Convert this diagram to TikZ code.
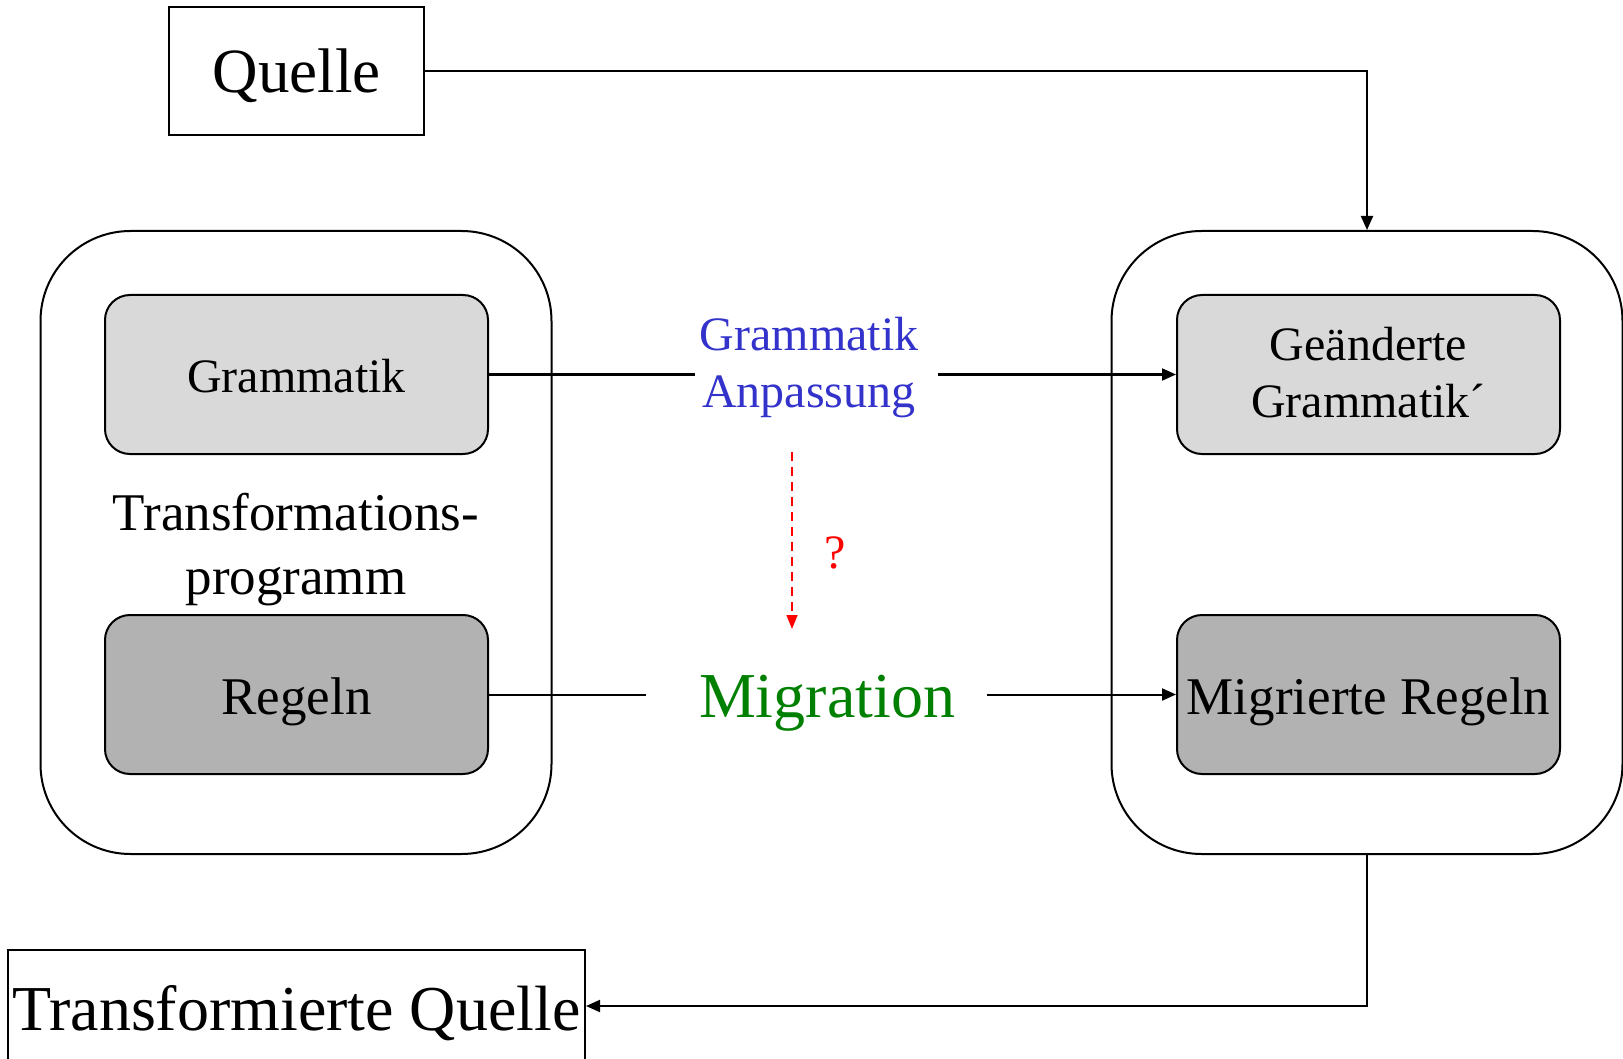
\documentclass[tikz,border=0pt]{standalone}
\usepackage{fontspec}
\setmainfont{Liberation Serif}
\usetikzlibrary{arrows.meta,calc}
\definecolor{lgray}{RGB}{217,217,217}
\definecolor{dgray}{RGB}{178,178,178}
\definecolor{myblue}{RGB}{51,51,204}
\definecolor{mygreen}{RGB}{0,128,0}
\newcommand\lowr[2]{\raisebox{-#1}[\height][\depth]{#2}}
\begin{document}
\begin{tikzpicture}[x=1pt,y=-1pt,line width=2pt,
  outerbox/.style={draw,rounded corners=90pt,minimum width=511pt,minimum height=623pt,inner sep=0pt},
  innerbox/.style={draw,rounded corners=25pt,minimum width=383pt,minimum height=159pt,inner sep=0pt},
  plainbox/.style={draw,inner sep=0pt},
  arr/.style={-{Triangle[length=14pt,width=12pt]}},
  fsmall/.style={font=\fontsize{48}{57}\selectfont},
  fmid/.style={font=\fontsize{53}{64}\selectfont},
  fbig/.style={font=\fontsize{63}{70}\selectfont}]
\useasboundingbox (0,0) rectangle (1623,1059);
% outer containers
\node[outerbox] (lout) at (296,542.5) {};
\node[outerbox] (rout) at (1367,542.5) {};
% inner boxes
\node[innerbox,fill=lgray,fsmall] (gram) at (296.5,374.5) {\lowr{2pt}{Grammatik}};
\node[innerbox,fill=dgray,fmid] (reg) at (296.5,694.5) {\lowr{7pt}{Regeln}};
\node[innerbox,fill=lgray,fsmall] (gc) at (1368.5,374.5)
  {\lowr{3pt}{\begin{tabular}{@{}c@{}}Geänderte\\Grammatik´\end{tabular}}};
\node[innerbox,fill=dgray,fmid] (mreg) at (1368.5,694.5) {\lowr{7pt}{Migrierte Regeln}};
\node[align=center,inner sep=0pt,font=\fontsize{53}{64}\selectfont] (tp) at (296,550) {Transformations-\\programm};
% source / target
\node[plainbox,minimum width=255pt,minimum height=128pt,fbig] (q) at (296.5,71) {\lowr{5pt}{Quelle}};
\node[plainbox,minimum width=577pt,minimum height=112pt,font=\fontsize{64}{72}\selectfont] (tq) at (296.5,1006) {\lowr{7pt}{Transformierte Quelle}};
% middle labels
\node[fsmall,text=myblue,align=center,inner sep=0pt] (anp) at (809,368) {Grammatik\\Anpassung};
\node[font=\fontsize{64}{70}\selectfont,text=mygreen,inner sep=0pt] (mig) at (827,703) {Migration};
\node[fsmall,text=red,inner sep=0pt] (qm) at (835,553) {?};
\coordinate (qa) at (792,452);
\coordinate (qb) at (792,629);
% connectors
\draw (gram.east) -- ([xshift=-4pt]anp.west |- gram.east);
\draw[arr] ([xshift=19pt]anp.east |- gc.west) -- (gc.west);
\draw (reg.east) -- ([xshift=-52pt]mig.west |- reg.east);
\draw[arr] ([xshift=31pt]mig.east |- mreg.west) -- (mreg.west);
\draw[arr] (q.east) -| (rout.north);
\draw[arr] (rout.south) |- (tq.east);
\draw[red,line width=1.5pt,dash pattern=on 9pt off 6pt,-{Triangle[length=14pt,width=11pt]}] (qa) -- (qb);
\end{tikzpicture}
\end{document}
